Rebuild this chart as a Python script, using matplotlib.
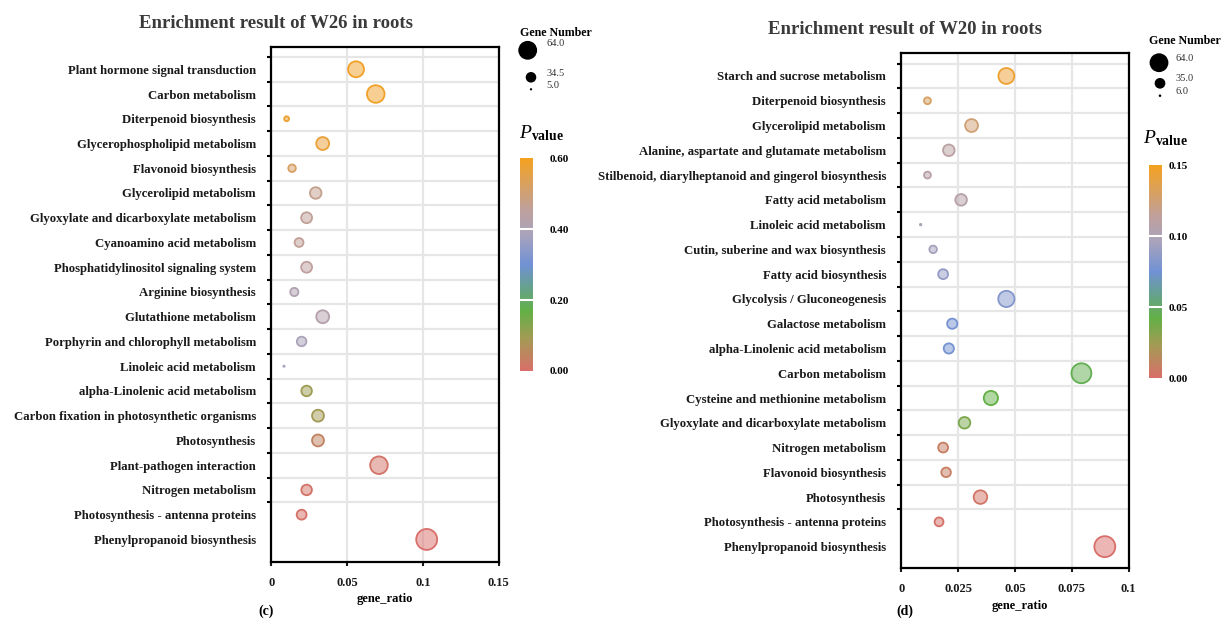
import matplotlib
matplotlib.use("Agg")
import matplotlib.pyplot as plt
from matplotlib.colors import LinearSegmentedColormap, Normalize
from matplotlib.cm import ScalarMappable
import numpy as np

plt.rcParams['font.family'] = ['Liberation Serif', 'DejaVu Serif']
plt.rcParams['mathtext.fontset'] = 'custom'
plt.rcParams['mathtext.rm'] = 'Liberation Serif'
plt.rcParams['mathtext.it'] = 'Liberation Serif:italic'
plt.rcParams['mathtext.bf'] = 'Liberation Serif:bold'

# ---- panel (c): W26 ----
w26_terms = ["Plant hormone signal transduction", "Carbon metabolism",
             "Diterpenoid biosynthesis", "Glycerophospholipid metabolism",
             "Flavonoid biosynthesis", "Glycerolipid metabolism",
             "Glyoxylate and dicarboxylate metabolism", "Cyanoamino acid metabolism",
             "Phosphatidylinositol signaling system", "Arginine biosynthesis",
             "Glutathione metabolism", "Porphyrin and chlorophyll metabolism",
             "Linoleic acid metabolism", "alpha-Linolenic acid metabolism",
             "Carbon fixation in photosynthetic organisms", "Photosynthesis",
             "Plant-pathogen interaction", "Nitrogen metabolism",
             "Photosynthesis - antenna proteins", "Phenylpropanoid biosynthesis"]
w26_ratio = [0.0559, 0.0689, 0.0101, 0.0339, 0.0137, 0.0293, 0.0233, 0.0183, 0.0233, 0.0152,
             0.0339, 0.0200, 0.0084, 0.0233, 0.0308, 0.0308, 0.0710, 0.0233, 0.0200, 0.1025]
w26_count = [49, 54, 16, 40, 24, 36, 34, 28, 34, 26, 40, 30, 5, 33, 37, 37, 54, 33, 31, 64]
w26_p = [0.59, 0.59, 0.58, 0.57, 0.52, 0.47, 0.46, 0.46, 0.45, 0.41,
         0.42, 0.39, 0.38, 0.10, 0.09, 0.04, 0.01, 0.01, 0.005, 0.0]
w26_size_legend = [64.0, 34.5, 5.0]
w26_cbar_ticks = [0.0, 0.2, 0.4, 0.6]

# ---- panel (d): W20 ----
w20_terms = ["Starch and sucrose metabolism", "Diterpenoid biosynthesis",
             "Glycerolipid metabolism", "Alanine, aspartate and glutamate metabolism",
             "Stilbenoid, diarylheptanoid and gingerol biosynthesis", "Fatty acid metabolism",
             "Linoleic acid metabolism", "Cutin, suberine and wax biosynthesis",
             "Fatty acid biosynthesis", "Glycolysis / Gluconeogenesis",
             "Galactose metabolism", "alpha-Linolenic acid metabolism",
             "Carbon metabolism", "Cysteine and methionine metabolism",
             "Glyoxylate and dicarboxylate metabolism", "Nitrogen metabolism",
             "Flavonoid biosynthesis", "Photosynthesis",
             "Photosynthesis - antenna proteins", "Phenylpropanoid biosynthesis"]
w20_ratio = [0.0462, 0.0115, 0.0309, 0.0209, 0.0115, 0.0263, 0.0085, 0.0140, 0.0184, 0.0462,
             0.0224, 0.0209, 0.0792, 0.0394, 0.0278, 0.0184, 0.0197, 0.0348, 0.0166, 0.0895]
w20_count = [49, 22, 40, 36, 22, 36, 6, 24, 31, 50, 32, 32, 61, 44, 36, 31, 30, 42, 28, 64]
w20_p = [0.145, 0.130, 0.125, 0.110, 0.108, 0.107, 0.100, 0.095, 0.088, 0.082,
         0.077, 0.077, 0.045, 0.042, 0.035, 0.008, 0.008, 0.003, 0.002, 0.0]
w20_size_legend = [64.0, 35.0, 6.0]
w20_cbar_ticks = [0.0, 0.05, 0.10, 0.15]

# red -> olive -> green -> teal -> blue -> lavender -> tan -> orange
cmap = LinearSegmentedColormap.from_list("enrich", [
    (0.00, "#d96f6a"), (0.15, "#a49a55"), (0.28, "#63b046"), (0.40, "#66a092"),
    (0.50, "#7191d4"), (0.64, "#a8a3bc"), (0.76, "#bfa09c"), (1.00, "#f4a120")])

W, H = 1226, 619
fig = plt.figure(figsize=(W / 100, H / 100), dpi=100)


def box(x0, y0, x1, y1):
    # pixel box (top-left origin) -> figure fraction rect
    return [x0 / W, 1 - y1 / H, (x1 - x0) / W, (y1 - y0) / H]


def diam_px(c):
    # bubble outer diameter in pixels grows linearly with gene count
    return 1.3 + 0.335 * np.asarray(c, dtype=float)


def draw_panel(ax_box, cax_box, lax_box, terms, ratio, count, pval, pmax, xmax, xticks,
               xticklabels, size_legend, cbar_ticks, cbar_pad, ylim, leg_xy):
    ax = fig.add_axes(box(*ax_box))
    n = len(terms)
    y = np.arange(n)
    norm = Normalize(0, pmax)
    edge = [cmap(norm(p)) for p in pval]
    face = [(r, g, b, 0.5) for r, g, b, a in edge]
    d = np.maximum(diam_px(count) - 1.8, 1.2)
    ax.scatter(ratio, y, s=(d * 0.72) ** 2, c=face, edgecolors=edge, linewidths=1.3, zorder=3)

    ax.set_xlim(0, xmax)
    ax.set_ylim(*ylim)
    ax.set_xticks(xticks)
    ax.set_xticklabels(xticklabels, fontweight='bold', fontsize=9)
    # row boundaries are the major ticks, term names sit between them
    ax.set_yticks(np.arange(n - 1) - 0.5)
    ax.set_yticklabels([])
    ax.set_yticks(y, minor=True)
    ax.set_yticklabels(terms, minor=True, fontweight='bold', fontsize=9.2, color='#1a1a1a')
    ax.tick_params(axis='y', which='minor', length=0, pad=11)
    ax.tick_params(axis='y', which='major', length=3, width=1.5, direction='out')
    ax.tick_params(axis='x', length=3, width=1.5, pad=8, colors='#1a1a1a')
    ax.grid(True, which='major', color='#e6e6e6', linewidth=1.6, zorder=0)
    ax.set_axisbelow(True)
    for s in ax.spines.values():
        s.set_linewidth(1.6)
        s.set_color('black')

    # p-value colour bar, ticks shown as white cuts
    cax = fig.add_axes(box(*cax_box))
    cb = fig.colorbar(ScalarMappable(norm=norm, cmap=cmap), cax=cax)
    cb.outline.set_visible(False)
    cb.set_ticks(cbar_ticks)
    cb.set_ticklabels(["%.2f" % t for t in cbar_ticks])
    cax.tick_params(length=0, pad=cbar_pad, labelsize=8)
    for t in cax.get_yticklabels():
        t.set_fontweight('bold')
    for t in cbar_ticks[1:-1]:
        cax.axhline(t, color='white', linewidth=1.5)

    # gene number legend, laid out in pixel units of its own small axes
    x0, y0, x1, y1 = lax_box
    lax = fig.add_axes(box(*lax_box))
    lax.set_xlim(x0, x1)
    lax.set_ylim(y1, y0)
    lax.axis('off')
    cx, cy, tx, ty = leg_xy
    ld = 0.9 + 0.28 * np.asarray(size_legend)
    lax.scatter(cx, cy, s=(ld * 0.72) ** 2, c='black', linewidths=0)
    for v, yy in zip(size_legend, ty):
        lax.text(tx, yy, "%.1f" % v, fontsize=7.5, va='center', ha='left', color='#333333')
    return ax


ax1 = draw_panel((271.3, 47, 498.7, 561.7), (519.5, 158, 532.5, 371), (505, 20, 600, 100),
                 w26_terms, w26_ratio, w26_count, w26_p, 0.6, 0.15,
                 [0, 0.05, 0.1, 0.15], ["0", "0.05", "0.1", "0.15"],
                 w26_size_legend, w26_cbar_ticks, 12, (19.9, -0.9),
                 ([527.7, 531, 531], [50.3, 77.3, 89.3], 546.7, [43.5, 73, 86]))
ax2 = draw_panel((901.3, 52.7, 1128.7, 567.7), (1149, 165, 1162, 378), (1135, 25, 1226, 105),
                 w20_terms, w20_ratio, w20_count, w20_p, 0.15, 0.1,
                 [0, 0.025, 0.05, 0.075, 0.1], ["0", "0.025", "0.05", "0.075", "0.1"],
                 w20_size_legend, w20_cbar_ticks, 5, (19.85, -0.94),
                 ([1159, 1160, 1160], [62.7, 83.3, 95.7], 1175.7, [58.5, 78.5, 91.7]))


def ftext(px, py, s, **kw):
    fig.text(px / W, 1 - py / H, s, **kw)


# titles, axis labels, panel tags
ftext(276, 23, "Enrichment result of W26 in roots", fontsize=13.5, fontweight='bold',
      color='#3a3a3a', ha='center', va='center')
ftext(905, 30, "Enrichment result of W20 in roots", fontsize=13.5, fontweight='bold',
      color='#3a3a3a', ha='center', va='center')
ftext(385, 599, "gene_ratio", fontsize=9, fontweight='bold', ha='center', va='center')
ftext(1020, 606, "gene_ratio", fontsize=9, fontweight='bold', ha='center', va='center')
ftext(266, 611, "(c)", fontsize=10, fontweight='bold', ha='center', va='center')
ftext(905, 611, "(d)", fontsize=10, fontweight='bold', ha='center', va='center')
ftext(520, 33.5, "Gene Number", fontsize=8.6, fontweight='bold', ha='left', va='center')
ftext(1149, 40.5, "Gene Number", fontsize=8.6, fontweight='bold', ha='left', va='center')
ftext(519, 133, r"$P_{\mathbf{value}}$", fontsize=14, ha='left', va='center')
ftext(1143, 138, r"$P_{\mathbf{value}}$", fontsize=14, ha='left', va='center')

fig.savefig("out.png", dpi=100)
